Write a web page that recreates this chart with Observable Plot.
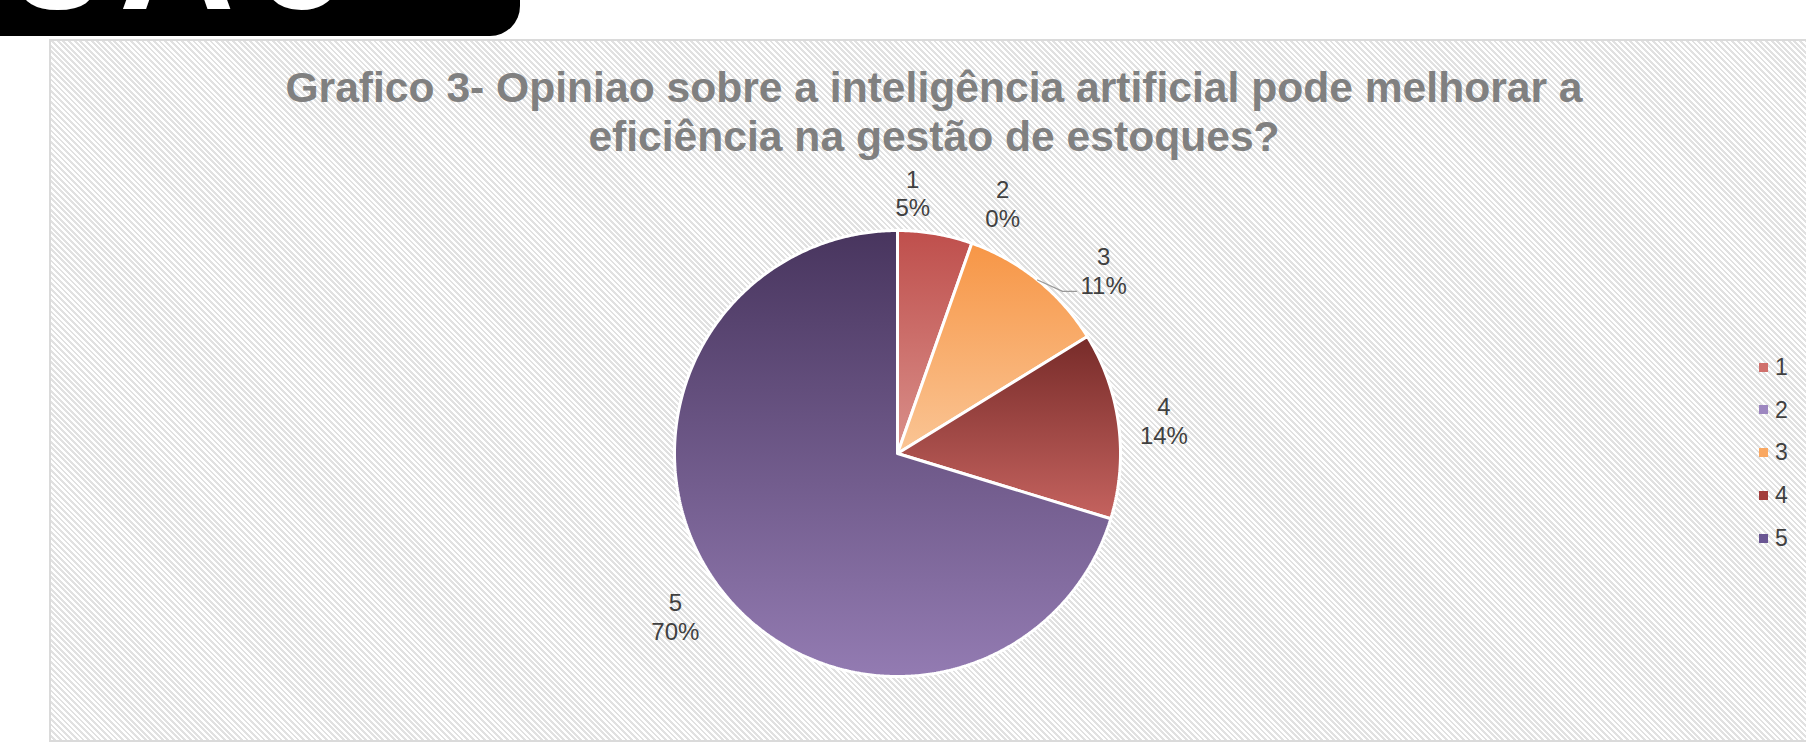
<!DOCTYPE html>
<html><head><meta charset="utf-8">
<script src="https://cdn.jsdelivr.net/npm/d3@7"></script>
<script src="https://cdn.jsdelivr.net/npm/@observablehq/plot@0.6"></script>
<style>
html,body{margin:0;padding:0;background:#fff;width:1806px;height:746px;overflow:hidden;font-family:"Liberation Sans",Arial,sans-serif;}
#banner{position:absolute;left:0;top:0;width:520px;height:36px;background:#000;border-bottom-right-radius:30px;overflow:hidden;}
#banner span{position:absolute;color:#fff;font-weight:bold;line-height:1;white-space:nowrap;}
#frame{position:absolute;left:49px;top:39px;width:1800px;height:699px;border:2px solid #dadada;border-right:none;
  background:repeating-linear-gradient(45deg,#ffffff 0 2px,#e1e1e1 2px 4px);}
#title{position:absolute;left:0;width:1868px;top:63px;text-align:center;font-weight:bold;font-size:42.6px;line-height:49px;color:#808080;}
#chart{position:absolute;left:0;top:0;}
.lg-sw{position:absolute;width:9px;height:9px;}
.lg-tx{position:absolute;font-size:23px;line-height:23px;color:#404040;}
</style>
</head><body>
<div id="banner"><span style="font-size:128px;left:15px;top:-99px">S</span><span style="font-size:160px;left:119px;top:-126px">A</span><span style="font-size:115px;left:257px;top:-88px">O</span></div>
<div id="frame"></div>
<div id="title">Grafico 3- Opiniao sobre a inteligência artificial pode melhorar a<br>eficiência na gestão de estoques?</div>
<div id="chart"></div>
<div id="legend"></div>
<script>
// ---- data ----
const categories = ["1", "2", "3", "4", "5"];
const counts = [2, 0, 4, 5, 26];

// ---- styles ----
const gradTop = ["#bf4f4c", "#8064a2", "#f79646", "#772b29", "#48355e"];
const gradBottom = ["#d9908b", "#b6a4cc", "#fac595", "#c5635f", "#937bb2"];
const legendColors = ["#d0706c", "#9d87c0", "#f9a862", "#a33d3b", "#6a5693"];
// label nudges in px (layout only, relative to outside-end position)
const labelNudgeX = [-30, 16, 38, 1, -7];
const labelNudgeY = [3, 2, 25, 1, 4];
const leaderFor = ["3"];

const R = 223, CX = 897, CY = 453;
const total = d3.sum(counts);
let acc = 0;
const slices = categories.map((c, i) => {
  const a0 = acc / total * 2 * Math.PI;
  acc += counts[i];
  const a1 = acc / total * 2 * Math.PI;
  return {cat: c, i, value: counts[i], a0, a1, mid: (a0 + a1) / 2, pct: Math.round(counts[i] / total * 100)};
});

const marks = [];
slices.forEach(s => {
  if (s.value <= 0) return;
  const pts = [{x: 0, y: 0}];
  const n = Math.max(2, Math.ceil((s.a1 - s.a0) / (Math.PI / 360)));
  for (let k = 0; k <= n; k++) {
    const a = s.a0 + (s.a1 - s.a0) * k / n;
    pts.push({x: Math.sin(a), y: Math.cos(a)});
  }
  pts.push({x: 0, y: 0});
  marks.push(Plot.line(pts, {x: "x", y: "y", fill: `url(#grad${s.i})`, stroke: "#ffffff", strokeWidth: 3, strokeLinejoin: "miter", curve: "linear"}));
});

const labels = slices.map(s => ({
  x: 1.2 * Math.sin(s.mid) + labelNudgeX[s.i] / R,
  y: 1.2 * Math.cos(s.mid) - labelNudgeY[s.i] / R,
  text: `${s.cat}\n${s.pct}%`,
  cat: s.cat, mid: s.mid
}));

labels.filter(l => leaderFor.includes(l.cat)).forEach(l => {
  const endX = l.x - 27 / R, endY = l.y - 21 / R;
  const pts = [
    {x: 1.0 * Math.sin(l.mid), y: 1.0 * Math.cos(l.mid)},
    {x: endX - 14 / R, y: endY},
    {x: endX, y: endY}
  ];
  marks.push(Plot.line(pts, {x: "x", y: "y", stroke: "#9a9a9a", strokeWidth: 1.3, curve: "linear"}));
});

marks.push(Plot.text(labels, {x: "x", y: "y", text: "text", fontSize: 24, fill: "#404040", lineHeight: 1.2, fontFamily: "Liberation Sans, Arial, sans-serif", textAnchor: "middle"}));

const svg = Plot.plot({
  width: 1806, height: 746,
  x: {domain: [-1, 1], range: [CX - R, CX + R], axis: null},
  y: {domain: [-1, 1], range: [CY + R, CY - R], axis: null},
  style: {background: "transparent", overflow: "visible"},
  marks
});
const ns = "http://www.w3.org/2000/svg";
const defs = document.createElementNS(ns, "defs");
categories.forEach((c, i) => {
  const g = document.createElementNS(ns, "linearGradient");
  g.setAttribute("id", `grad${i}`);
  g.setAttribute("x1", "0"); g.setAttribute("y1", "0"); g.setAttribute("x2", "0"); g.setAttribute("y2", "1");
  [[0, gradTop[i]], [1, gradBottom[i]]].forEach(([o, col]) => {
    const st = document.createElementNS(ns, "stop");
    st.setAttribute("offset", o); st.setAttribute("stop-color", col);
    g.appendChild(st);
  });
  defs.appendChild(g);
});
svg.insertBefore(defs, svg.firstChild);
document.getElementById("chart").appendChild(svg);

// legend
const lg = document.getElementById("legend");
const legendY0 = 367, legendStep = 42.75;
categories.forEach((c, i) => {
  const y = legendY0 + i * legendStep;
  const sw = document.createElement("div");
  sw.className = "lg-sw"; sw.style.left = "1759px"; sw.style.top = (y - 4.5) + "px"; sw.style.background = legendColors[i];
  const tx = document.createElement("div");
  tx.className = "lg-tx"; tx.style.left = "1775px"; tx.style.top = (y - 11.2) + "px"; tx.textContent = c;
  lg.appendChild(sw); lg.appendChild(tx);
});
</script>
</body></html>
